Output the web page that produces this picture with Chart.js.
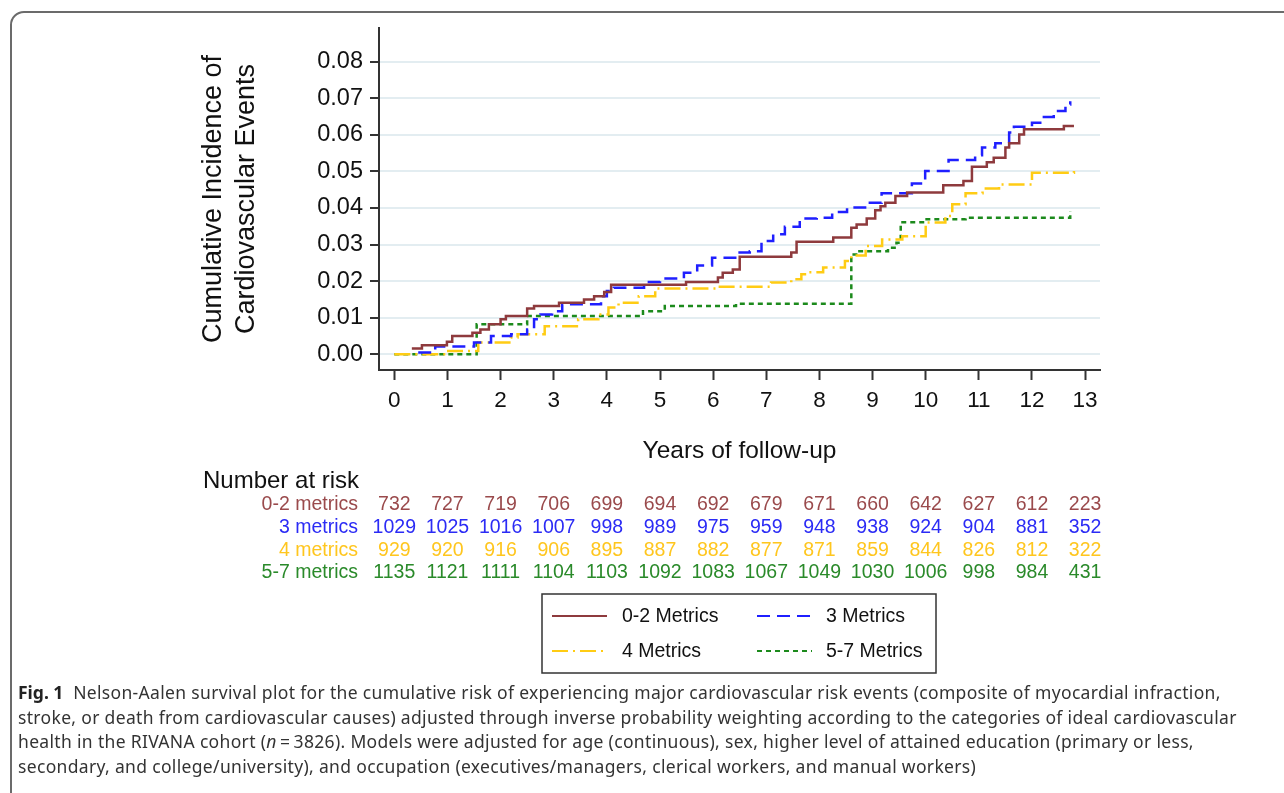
<!DOCTYPE html>
<html>
<head>
<meta charset="utf-8">
<script src="https://cdn.jsdelivr.net/npm/chart.js@4.4.1/dist/chart.umd.min.js"></script>
<style>
  html, body { margin: 0; padding: 0; background: #fff; overflow: hidden; }
  #wrap { position: relative; width: 1284px; height: 793px; }
  #frame { position: absolute; left: 10px; top: 11px; width: 1300px; height: 800px;
           border: 2px solid #6b6b6b; border-radius: 14px; box-sizing: border-box; }
  #plot { position: absolute; left: 0; top: 0; }
  #caption { position: absolute; left: 18px; top: 680px; width: 1260px;
             font-family: "Noto Sans", sans-serif; font-size: 17.5px; letter-spacing: 0.33px;
             line-height: 24.5px; color: #333; white-space: nowrap; }
  #caption b { color: #222; letter-spacing: 0; }
</style>
</head>
<body>
<div id="wrap">
  <div id="frame"></div>
  <canvas id="plot" width="1284" height="793"></canvas>
  <div id="caption">
    <b>Fig. 1</b>&nbsp; Nelson-Aalen survival plot for the cumulative risk of experiencing major cardiovascular risk events (composite of myocardial infraction,<br>
    stroke, or death from cardiovascular causes) adjusted through inverse probability weighting according to the categories of ideal cardiovascular<br>
    health in the RIVANA cohort (<i>n</i>&thinsp;=&thinsp;3826). Models were adjusted for age (continuous), sex, higher level of attained education (primary or less,<br>
    secondary, and college/university), and occupation (executives/managers, clerical workers, and manual workers)
  </div>
</div>
<script>
// Zeitpunkte (Jahre) und kumulative Inzidenz je Gruppe
const t02 = [0.33, 0.52, 0.99, 1.09, 1.47, 1.62, 1.78, 2.00, 2.10, 2.50, 2.63, 3.10, 3.57, 3.76, 3.95, 4.08, 5.49, 6.09, 6.18, 6.37, 6.50, 7.47, 7.57, 8.26, 8.60, 8.70, 8.89, 9.05, 9.15, 9.24, 9.43, 9.65, 10.33, 10.71, 10.87, 11.15, 11.28, 11.50, 11.57, 11.76, 11.85, 12.60, 12.79];
const v02 = [0.0016, 0.0025, 0.0034, 0.0050, 0.0059, 0.0068, 0.0082, 0.0096, 0.0105, 0.0125, 0.0132, 0.0141, 0.0150, 0.0159, 0.0170, 0.0190, 0.0198, 0.0210, 0.0223, 0.0232, 0.0267, 0.0278, 0.0308, 0.0319, 0.0346, 0.0355, 0.0371, 0.0394, 0.0405, 0.0414, 0.0433, 0.0442, 0.0462, 0.0474, 0.0513, 0.0525, 0.0537, 0.0565, 0.0577, 0.0601, 0.0615, 0.0624, 0.0624];

const t3 = [0.45, 0.77, 1.50, 1.82, 2.20, 2.50, 2.63, 2.75, 2.97, 3.16, 3.89, 4.00, 4.13, 4.70, 5.00, 5.45, 5.70, 5.98, 6.47, 6.69, 6.91, 7.13, 7.35, 7.63, 7.95, 8.24, 8.52, 8.89, 9.17, 9.74, 9.99, 10.43, 10.93, 11.06, 11.31, 11.57, 11.66, 12.00, 12.19, 12.41, 12.63, 12.72];
const v3 = [0.0005, 0.0021, 0.0032, 0.0050, 0.0055, 0.0068, 0.0096, 0.0109, 0.0118, 0.0137, 0.0159, 0.0173, 0.0182, 0.0198, 0.0207, 0.0223, 0.0243, 0.0264, 0.0278, 0.0282, 0.0310, 0.0328, 0.0349, 0.0371, 0.0373, 0.0389, 0.0401, 0.0414, 0.0440, 0.0467, 0.0501, 0.0531, 0.0544, 0.0565, 0.0577, 0.0606, 0.0622, 0.0633, 0.0649, 0.0665, 0.0683, 0.0692];

const t4 = [0, 0.98, 1.58, 2.19, 2.32, 2.83, 3.46, 3.84, 4.03, 4.22, 4.60, 4.91, 6.10, 7.09, 7.47, 7.66, 7.79, 8.07, 8.48, 8.60, 8.87, 9.18, 9.56, 10.00, 10.37, 10.50, 10.75, 11.07, 11.38, 12.00, 12.79];
const v4 = [0, 0.0009, 0.0032, 0.0046, 0.0055, 0.0077, 0.0096, 0.0109, 0.0128, 0.0141, 0.0159, 0.0180, 0.0185, 0.0196, 0.0205, 0.0219, 0.0224, 0.0237, 0.0255, 0.0270, 0.0296, 0.0314, 0.0323, 0.0360, 0.0378, 0.0410, 0.0440, 0.0453, 0.0464, 0.0496, 0.0513];

const t57 = [0, 1.55, 2.50, 4.68, 5.09, 6.43, 8.60, 8.72, 9.29, 9.45, 9.53, 9.99, 10.75, 12.72];
const v57 = [0, 0.0082, 0.0105, 0.0118, 0.0132, 0.0138, 0.0273, 0.0282, 0.0291, 0.0305, 0.0361, 0.0369, 0.0373, 0.0392];

const xTicks = [0, 1, 2, 3, 4, 5, 6, 7, 8, 9, 10, 11, 12, 13];
const yTicks = [0, 0.01, 0.02, 0.03, 0.04, 0.05, 0.06, 0.07, 0.08];

// Number at risk
const riskLabels = ['0-2 metrics', '3 metrics', '4 metrics', '5-7 metrics'];
const risk02 = [732, 727, 719, 706, 699, 694, 692, 679, 671, 660, 642, 627, 612, 223];
const risk3 = [1029, 1025, 1016, 1007, 998, 989, 975, 959, 948, 938, 924, 904, 881, 352];
const risk4 = [929, 920, 916, 906, 895, 887, 882, 877, 871, 859, 844, 826, 812, 322];
const risk57 = [1135, 1121, 1111, 1104, 1103, 1092, 1083, 1067, 1049, 1030, 1006, 998, 984, 431];

const legendNames = ['0-2 Metrics', '3 Metrics', '4 Metrics', '5-7 Metrics'];

const colors = ['#8e3a3d', '#1f1fff', '#ffcc14', '#1c8a1c'];
const textColors = ['#9a4a4c', '#2b2bf5', '#ffc61e', '#2a8a2a'];
const dashes = [[], [13, 7], [16, 5, 2, 5], [5, 4]];

function pts(t, v) {
    return t.map((x, i) => ({ x: x, y: v[i] }));
}

const FONT = '"Liberation Sans", Arial, sans-serif';

// Tabelle und Legende unter der Grafik
const extrasPlugin = {
    id: 'extras',
    afterDraw(chart) {
        const ctx = chart.ctx;
        const xs = chart.scales.x;
        const rows = [risk02, risk3, risk4, risk57];
        const rowY = [505, 528, 551, 573];
        ctx.save();
        ctx.textBaseline = 'middle';
        ctx.font = '24px ' + FONT;
        ctx.fillStyle = '#111';
        ctx.textAlign = 'left';
        ctx.fillText('Number at risk', 203, 481);
        ctx.font = '19.5px ' + FONT;
        rows.forEach((row, r) => {
            ctx.fillStyle = textColors[r];
            ctx.textAlign = 'right';
            ctx.fillText(riskLabels[r], 358, rowY[r]);
            ctx.textAlign = 'center';
            row.forEach((n, i) => {
                ctx.fillText(String(n), xs.getPixelForValue(xTicks[i]), rowY[r]);
            });
        });

        // Legende
        ctx.strokeStyle = '#333';
        ctx.lineWidth = 1.5;
        ctx.setLineDash([]);
        ctx.strokeRect(542, 594, 394, 79);
        const pos = [[552, 616], [757, 616], [552, 651], [757, 651]];
        ctx.textAlign = 'left';
        ctx.fillStyle = '#111';
        pos.forEach((p, i) => {
            ctx.beginPath();
            ctx.strokeStyle = colors[i];
            ctx.lineWidth = 2;
            ctx.setLineDash(dashes[i]);
            ctx.moveTo(p[0], p[1]);
            ctx.lineTo(p[0] + 55, p[1]);
            ctx.stroke();
            ctx.setLineDash([]);
            ctx.fillText(legendNames[i], p[0] + (i % 2 === 0 ? 70 : 69), p[1] + 1);
        });
        ctx.restore();
    }
};

const ctx = document.getElementById('plot').getContext('2d');
const chart = new Chart(ctx, {
    type: 'line',
    data: {
        datasets: [
            { label: legendNames[0], data: pts(t02, v02) },
            { label: legendNames[1], data: pts(t3, v3) },
            { label: legendNames[2], data: pts(t4, v4) },
            { label: legendNames[3], data: pts(t57, v57) }
        ].map((d, i) => Object.assign(d, {
            borderColor: colors[i],
            borderWidth: 2.5,
            borderDash: dashes[i],
            stepped: true,
            pointRadius: 0,
            fill: false
        }))
    },
    options: {
        responsive: false,
        animation: false,
        layout: { padding: { left: 197, right: 184, top: 28, bottom: 327 } },
        plugins: {
            legend: { display: false },
            tooltip: { enabled: false }
        },
        scales: {
            x: {
                type: 'linear',
                min: -0.288,
                max: 13.28,
                afterBuildTicks: s => { s.ticks = xTicks.map(v => ({ value: v })); },
                afterFit: s => { s.height = 96; },
                grid: { drawOnChartArea: false, tickLength: 10, tickColor: '#333', tickWidth: 2 },
                border: { color: '#333', width: 2 },
                ticks: { font: { family: FONT, size: 22.5 }, color: '#111', padding: 7, maxRotation: 0 },
                title: {
                    display: true,
                    text: 'Years of follow-up',
                    font: { family: FONT, size: 24.5 },
                    color: '#111',
                    padding: { top: 0, bottom: 0 }
                }
            },
            y: {
                min: -0.00429,
                max: 0.0892,
                afterBuildTicks: s => { s.ticks = yTicks.map(v => ({ value: v })); },
                afterFit: s => { s.width = 182; },
                grid: { color: '#e3edf1', lineWidth: 2, tickLength: 9, tickColor: '#333', tickWidth: 2 },
                border: { color: '#333', width: 2 },
                ticks: {
                    font: { family: FONT, size: 23.5 },
                    color: '#111',
                    padding: 7,
                    callback: v => v.toFixed(2)
                },
                title: {
                    display: true,
                    text: ['Cumulative Incidence of', 'Cardiovascular Events'],
                    font: { family: FONT, size: 27, lineHeight: 1.22 },
                    color: '#111',
                    padding: { top: 0, bottom: 0 }
                }
            }
        }
    },
    plugins: [extrasPlugin]
});
</script>
</body>
</html>
